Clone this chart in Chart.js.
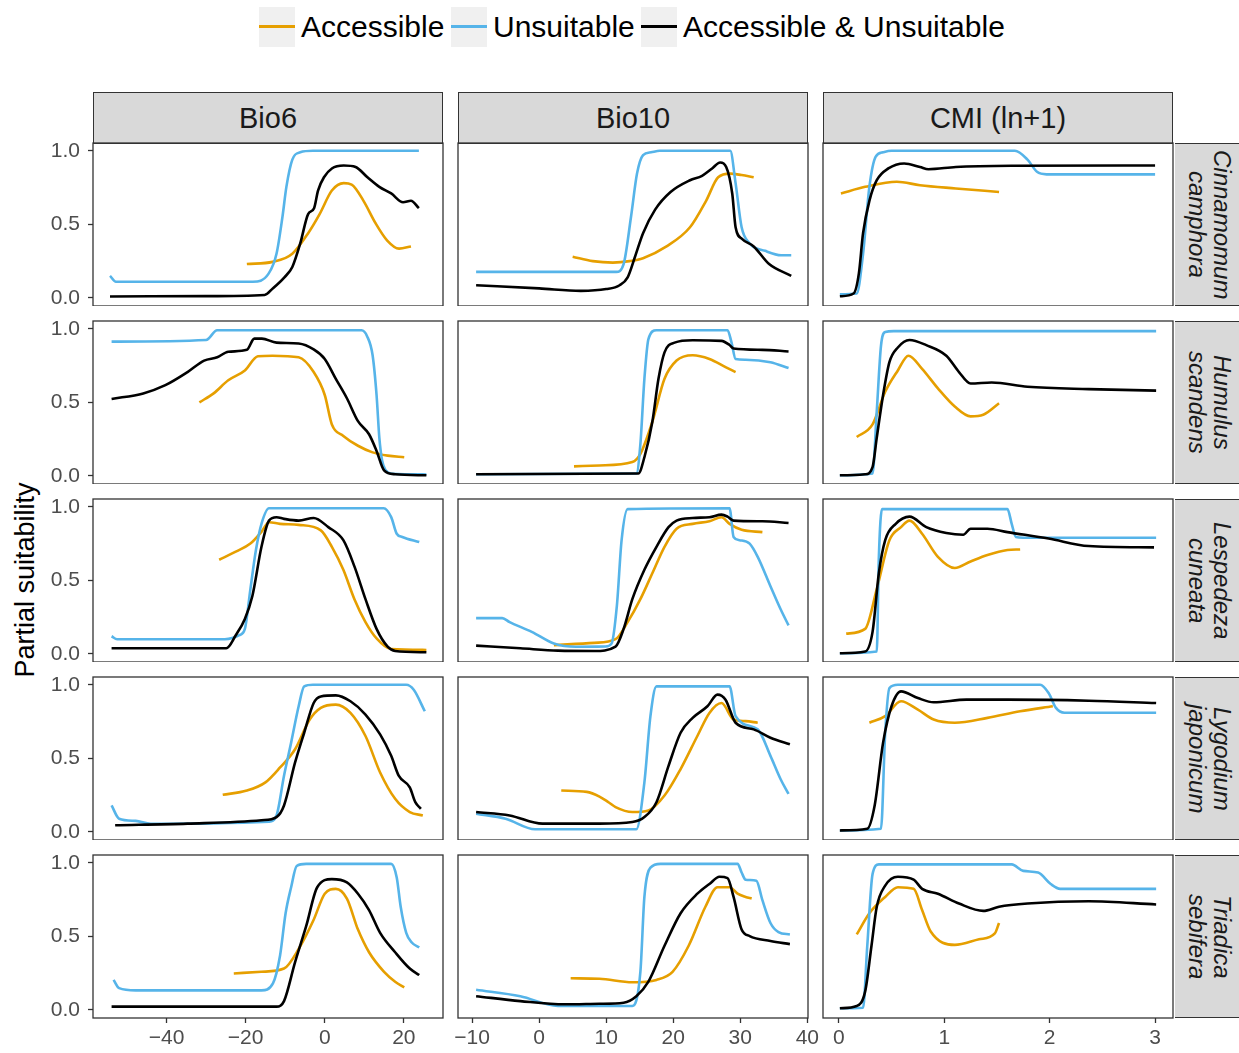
<!DOCTYPE html>
<html>
<head>
<meta charset="utf-8">
<script src="https://cdn.jsdelivr.net/npm/chart.js@4.4.1/dist/chart.umd.min.js"></script>
<style>
  body { margin: 0; background: #fff; width: 1239px; height: 1053px; position: relative; overflow: hidden;
         font-family: "Liberation Sans", Arial, sans-serif; }
  canvas { position: absolute; }
  .strip { position: absolute; background: #d9d9d9; border: 1.3px solid #333; box-sizing: border-box;
           display: flex; align-items: center; justify-content: center; color: #1a1a1a; }
  .strip.top { font-size: 29px; }
  .strip.side { border-left: none; font-size: 24px; font-style: italic; writing-mode: vertical-rl;
                text-align: center; line-height: 25px; }
  .legend-key { position: absolute; top: 7px; width: 36px; height: 40px; background: #f0f0f0; }
  .legend-key span { position: absolute; left: 0; right: 0; top: 18px; height: 3px; }
  .legend-text { position: absolute; top: 7px; height: 40px; line-height: 40px; font-size: 30px; color: #000; }
  #ytitle { position: absolute; left: 25px; top: 580px; font-size: 27px; color: #000;
            transform: translate(-50%, -50%) rotate(-90deg); white-space: nowrap; }
</style>
</head>
<body>
<div id="ytitle">Partial suitability</div>
<script>
// Facets
const variables = ['Bio6', 'Bio10', 'CMI (ln+1)'];
const genus = ['Cinnamomum', 'Humulus', 'Lespedeza', 'Lygodium', 'Triadica'];
const epithet = ['camphora', 'scandens', 'cuneata', 'japonicum', 'sebifera'];
const seriesNames = ['Accessible', 'Unsuitable', 'Accessible & Unsuitable'];
const seriesColors = ['#E69F00', '#56B4E9', '#000000'];

// Tick values
const xTicksBio6 = [-40, -20, 0, 20];
const xTicksBio10 = [-10, 0, 10, 20, 30, 40];
const xTicksCmi = [0, 1, 2, 3];
const yTicks = [0, 0.5, 1];

// Cinnamomum camphora
const cinBio6Acc = [[-19.7,0.23],[-13.2,0.245],[-8.2,0.30],[-4.2,0.44],[-1.3,0.57],[1.8,0.73],[4.8,0.78],[6.8,0.77],[9.8,0.66],[12.8,0.51],[15.8,0.39],[18.8,0.335],[21.8,0.35]];
const cinBio6Uns = [[-54.3,0.15],[-52.8,0.11],[-30,0.11],[-18.2,0.11],[-14.2,0.165],[-12.2,0.30],[-10.7,0.55],[-9.7,0.755],[-8.2,0.94],[-6.2,0.99],[-3,1.0],[23.8,1.0]];
const cinBio6Both = [[-54.3,0.01],[-30,0.012],[-15.2,0.02],[-13.2,0.063],[-10.2,0.14],[-8.2,0.21],[-6.2,0.37],[-4.2,0.57],[-2.7,0.61],[-1.7,0.73],[-0.2,0.82],[1.8,0.88],[4.8,0.90],[7.8,0.89],[10.8,0.82],[13.8,0.755],[16.8,0.71],[19.8,0.65],[21.8,0.66],[23.8,0.61]];
const cinBio10Acc = [[5.0,0.28],[8.0,0.25],[11.0,0.24],[13.5,0.25],[15.5,0.27],[19.0,0.35],[22.5,0.48],[24.9,0.66],[26.7,0.82],[28.5,0.845],[30.2,0.835],[32.0,0.82]];
const cinBio10Uns = [[-9.4,0.177],[11.5,0.177],[12.6,0.23],[13.7,0.55],[14.6,0.845],[15.5,0.97],[16.7,0.99],[18,1.0],[28.5,1.0],[29.3,0.78],[30.2,0.48],[31.4,0.37],[33.7,0.32],[36.1,0.29],[37.6,0.29]];
const cinBio10Both = [[-9.4,0.086],[0,0.065],[6.2,0.048],[10,0.06],[12.0,0.086],[13.2,0.14],[14.3,0.28],[15.5,0.44],[17.3,0.60],[19.6,0.72],[22.5,0.80],[24.3,0.83],[25.8,0.88],[27.0,0.92],[27.9,0.89],[28.8,0.71],[29.3,0.48],[30.3,0.40],[32.0,0.35],[34.3,0.23],[37.6,0.15]];
const cinCmiAcc = [[0.02,0.71],[0.25,0.755],[0.55,0.79],[0.77,0.766],[1.11,0.744],[1.52,0.72]];
const cinCmiUns = [[0.01,0.025],[0.17,0.03],[0.23,0.30],[0.29,0.755],[0.35,0.96],[0.42,0.99],[0.5,1.0],[1.67,1.0],[1.79,0.94],[1.88,0.857],[1.97,0.84],[3.0,0.84]];
const cinCmiBoth = [[0.01,0.011],[0.14,0.03],[0.19,0.165],[0.23,0.44],[0.29,0.66],[0.36,0.80],[0.47,0.88],[0.62,0.914],[0.77,0.89],[0.85,0.875],[1.11,0.89],[1.67,0.898],[3.0,0.90]];

// Humulus scandens
const humBio6Acc = [[-31.7,0.50],[-28.1,0.561],[-24.4,0.65],[-20.2,0.717],[-16.9,0.813],[-13.2,0.817],[-6.6,0.806],[-2.8,0.706],[0,0.55],[1.8,0.35],[4.7,0.272],[8.4,0.205],[12.1,0.16],[15.9,0.138],[20.1,0.127]];
const humBio6Uns = [[-53.9,0.913],[-30,0.924],[-27.2,0.99],[9.3,0.99],[10.7,0.95],[12.1,0.82],[13.1,0.55],[13.8,0.26],[14.5,0.105],[15.4,0.038],[17,0.015],[25.7,0.01]];
const humBio6Both = [[-53.9,0.523],[-45.9,0.561],[-40.3,0.617],[-34.7,0.706],[-30.5,0.784],[-27.2,0.806],[-24.4,0.844],[-19.7,0.857],[-17.8,0.933],[-15.9,0.933],[-12.2,0.906],[-6.6,0.90],[-2.8,0.86],[0,0.795],[2.8,0.66],[5.6,0.528],[8.4,0.372],[11.2,0.283],[13.1,0.17],[15.0,0.038],[17.8,0.011],[25.7,0.004]];
const humBio10Acc = [[5.2,0.065],[9.0,0.071],[13.9,0.094],[15.1,0.15],[16.9,0.37],[18.7,0.66],[20.5,0.784],[22.9,0.82],[25.4,0.795],[27.8,0.74],[29.3,0.706]];
const humBio10Uns = [[-9.4,0.011],[14.5,0.016],[15.1,0.216],[15.7,0.66],[16.3,0.93],[17.5,0.99],[28.1,0.99],[28.7,0.906],[29.3,0.795],[30.8,0.79],[34.5,0.773],[37.2,0.733]];
const humBio10Both = [[-9.4,0.011],[14.8,0.016],[15.7,0.127],[16.9,0.372],[17.8,0.66],[18.7,0.84],[20.2,0.906],[22.9,0.922],[27.2,0.918],[28.4,0.89],[29.0,0.866],[33.3,0.857],[37.2,0.846]];
const humCmiAcc = [[0.17,0.265],[0.32,0.35],[0.44,0.572],[0.56,0.717],[0.66,0.817],[0.79,0.728],[0.94,0.595],[1.10,0.472],[1.25,0.405],[1.37,0.416],[1.52,0.494]];
const humCmiUns = [[0.01,0.004],[0.32,0.016],[0.36,0.44],[0.40,0.884],[0.44,0.978],[0.52,0.984],[3.01,0.984]];
const humCmiBoth = [[0.01,0.004],[0.25,0.011],[0.32,0.06],[0.36,0.26],[0.42,0.55],[0.48,0.773],[0.56,0.873],[0.67,0.924],[0.83,0.889],[1.02,0.817],[1.14,0.706],[1.25,0.628],[1.45,0.635],[1.79,0.606],[2.37,0.59],[3.01,0.58]];

// Lespedeza cuneata
const lesBio6Acc = [[-26.7,0.64],[-22.5,0.695],[-18.8,0.75],[-16.0,0.83],[-14.1,0.895],[-11.3,0.884],[-6.6,0.877],[-1.0,0.84],[1.8,0.728],[4.7,0.572],[7.5,0.372],[10.3,0.216],[13.1,0.105],[16.8,0.033],[25.7,0.027]];
const lesBio6Uns = [[-53.9,0.12],[-52.5,0.10],[-25.3,0.10],[-21.6,0.127],[-20.2,0.17],[-18.8,0.44],[-17.4,0.706],[-16.0,0.884],[-14.1,0.99],[14.9,0.99],[16.8,0.93],[18.2,0.817],[19.6,0.795],[23.9,0.76]];
const lesBio6Both = [[-53.9,0.038],[-24.9,0.038],[-22.5,0.127],[-20.2,0.238],[-18.3,0.394],[-16.0,0.728],[-14.1,0.906],[-12.2,0.929],[-10.3,0.918],[-6.6,0.906],[-2.8,0.924],[0.9,0.862],[4.7,0.773],[7.5,0.595],[10.3,0.372],[13.1,0.17],[15.9,0.049],[17.8,0.02],[25.7,0.011]];
const lesBio10Acc = [[2.2,0.06],[8.2,0.075],[11.4,0.10],[13.2,0.216],[15.1,0.372],[16.9,0.55],[18.7,0.728],[20.5,0.851],[22.9,0.884],[25.4,0.902],[27.2,0.929],[28.4,0.884],[30.2,0.844],[33.3,0.828]];
const lesBio10Uns = [[-9.4,0.243],[-5.5,0.243],[-4.4,0.216],[-1.1,0.15],[2.2,0.071],[5.5,0.049],[9.9,0.05],[10.8,0.07],[11.6,0.33],[12.3,0.773],[13.2,0.984],[28.4,0.99],[29.0,0.795],[29.9,0.773],[31.4,0.75],[32.6,0.66],[34.5,0.46],[36.0,0.305],[37.2,0.194]];
const lesBio10Both = [[-9.4,0.056],[-2.8,0.038],[2.8,0.022],[8.2,0.02],[11.4,0.05],[12.6,0.17],[13.9,0.372],[15.7,0.572],[17.5,0.728],[19.3,0.862],[20.5,0.906],[22.9,0.924],[25.4,0.929],[27.2,0.947],[28.1,0.933],[29.0,0.906],[33.3,0.902],[37.2,0.89]];
const lesCmiAcc = [[0.07,0.138],[0.25,0.17],[0.36,0.44],[0.48,0.773],[0.59,0.862],[0.67,0.906],[0.79,0.817],[0.94,0.66],[1.10,0.584],[1.25,0.628],[1.41,0.672],[1.60,0.706],[1.72,0.71]];
const lesCmiUns = [[0.01,0.004],[0.36,0.016],[0.38,0.66],[0.41,0.984],[1.60,0.984],[1.64,0.884],[1.68,0.795],[1.75,0.79],[3.01,0.79]];
const lesCmiBoth = [[0.01,0.004],[0.25,0.016],[0.32,0.15],[0.38,0.55],[0.44,0.773],[0.54,0.884],[0.67,0.933],[0.83,0.862],[1.02,0.822],[1.18,0.81],[1.25,0.851],[1.41,0.851],[1.60,0.828],[1.99,0.784],[2.37,0.733],[2.99,0.724]];

// Lygodium japonicum
const lygBio6Acc = [[-25.8,0.252],[-19.7,0.281],[-15.0,0.337],[-11.3,0.438],[-7.5,0.562],[-3.8,0.764],[-1.0,0.843],[2.8,0.865],[6.5,0.809],[10.3,0.652],[14.0,0.404],[17.8,0.225],[21.5,0.135],[24.8,0.112]];
const lygBio6Uns = [[-53.9,0.18],[-52.0,0.09],[-47.8,0.075],[-44,0.055],[-14.1,0.07],[-12.2,0.112],[-10.3,0.382],[-8.5,0.607],[-6.6,0.854],[-5.2,0.989],[-3,1.0],[20.6,1.0],[22.5,0.966],[25.3,0.82]];
const lygBio6Both = [[-53.0,0.045],[-34.7,0.056],[-16.0,0.079],[-12.2,0.101],[-10.3,0.18],[-7.5,0.472],[-5.2,0.674],[-2.8,0.876],[-1.0,0.921],[2.8,0.928],[6.5,0.888],[10.3,0.798],[14.0,0.663],[16.8,0.517],[18.7,0.382],[21.5,0.303],[22.9,0.202],[24.3,0.157]];
const lygBio10Acc = [[3.3,0.281],[7.1,0.272],[9.0,0.24],[10.4,0.2],[11.4,0.169],[13.9,0.135],[16.3,0.146],[18.7,0.247],[21.1,0.427],[23.6,0.652],[25.4,0.809],[27.2,0.876],[29.0,0.764],[30.8,0.753],[32.6,0.742]];
const lygBio10Uns = [[-9.4,0.124],[-5.0,0.09],[-0.6,0.018],[14.5,0.018],[15.7,0.337],[16.6,0.787],[17.5,0.989],[28.4,0.99],[29.3,0.787],[32.6,0.697],[34.5,0.517],[36.0,0.36],[37.2,0.258]];
const lygBio10Both = [[-9.4,0.135],[-4.4,0.112],[0.5,0.056],[9.0,0.056],[13.9,0.067],[15.7,0.101],[17.5,0.202],[19.3,0.449],[21.1,0.674],[22.9,0.775],[25.1,0.854],[26.6,0.933],[27.8,0.899],[29.3,0.742],[32.0,0.697],[34.5,0.64],[37.4,0.596]];
const lygCmiAcc = [[0.29,0.742],[0.44,0.787],[0.59,0.888],[0.75,0.831],[0.90,0.764],[1.10,0.742],[1.41,0.775],[1.72,0.82],[2.03,0.854]];
const lygCmiUns = [[0.01,0.01],[0.40,0.022],[0.44,0.674],[0.48,0.978],[0.56,1.0],[1.91,1.0],[1.99,0.944],[2.06,0.843],[2.14,0.81],[3.01,0.81]];
const lygCmiBoth = [[0.01,0.01],[0.27,0.022],[0.34,0.18],[0.42,0.607],[0.50,0.854],[0.59,0.955],[0.75,0.91],[0.90,0.881],[1.21,0.899],[1.60,0.899],[2.37,0.892],[3.01,0.876]];

// Triadica sebifera
const triBio6Acc = [[-23.0,0.248],[-16.0,0.259],[-10.3,0.281],[-6.6,0.414],[-2.8,0.613],[0,0.79],[2.8,0.823],[5.6,0.757],[8.4,0.546],[11.2,0.392],[15.0,0.259],[17.8,0.192],[20.1,0.153]];
const triBio6Uns = [[-53.4,0.204],[-52.0,0.148],[-47.8,0.133],[-16.0,0.133],[-13.1,0.181],[-11.3,0.37],[-9.9,0.657],[-8.5,0.834],[-7.1,0.978],[-4.7,0.993],[16.8,0.993],[18.2,0.9],[19.2,0.701],[20.6,0.524],[22.0,0.458],[23.9,0.425]];
const triBio6Both = [[-53.9,0.022],[-12.2,0.022],[-10.3,0.06],[-7.5,0.325],[-4.7,0.569],[-1.9,0.834],[1.8,0.889],[5.6,0.867],[8.4,0.79],[11.2,0.679],[14.0,0.524],[17.8,0.392],[21.5,0.281],[23.9,0.237]];
const triBio10Acc = [[4.7,0.215],[9.0,0.212],[13.9,0.188],[17.5,0.204],[19.9,0.259],[22.3,0.436],[24.8,0.701],[26.6,0.834],[28.4,0.834],[29.6,0.79],[30.8,0.768],[31.7,0.757]];
const triBio10Uns = [[-9.4,0.137],[-2.8,0.093],[2.8,0.027],[13.9,0.027],[15.1,0.259],[15.7,0.768],[16.6,0.967],[18.1,0.993],[29.6,0.993],[30.2,0.934],[30.8,0.885],[32.4,0.878],[33.3,0.746],[34.5,0.591],[35.7,0.529],[37.4,0.513]];
const triBio10Both = [[-9.4,0.093],[-2.8,0.06],[3.8,0.038],[9.0,0.042],[12.6,0.049],[14.5,0.093],[16.3,0.192],[18.7,0.436],[21.1,0.657],[23.6,0.79],[25.4,0.856],[26.9,0.905],[28.1,0.896],[29.0,0.768],[30.2,0.546],[31.4,0.502],[34.5,0.469],[37.4,0.447]];
const triCmiAcc = [[0.17,0.513],[0.29,0.657],[0.44,0.768],[0.56,0.834],[0.71,0.823],[0.79,0.679],[0.87,0.535],[1.10,0.442],[1.33,0.48],[1.48,0.52],[1.52,0.591]];
const triCmiUns = [[0.01,0.011],[0.23,0.015],[0.27,0.436],[0.32,0.923],[0.38,0.989],[1.64,0.989],[1.75,0.945],[1.89,0.934],[2.01,0.856],[2.10,0.823],[3.01,0.823]];
const triCmiBoth = [[0.01,0.011],[0.17,0.027],[0.25,0.126],[0.31,0.436],[0.36,0.701],[0.44,0.845],[0.56,0.905],[0.71,0.885],[0.79,0.823],[0.94,0.79],[1.14,0.723],[1.37,0.673],[1.52,0.701],[1.79,0.723],[2.37,0.739],[3.01,0.717]];

// Rows = species, columns = variables, each cell = [Accessible, Unsuitable, Both]
const panels = [
  [[cinBio6Acc, cinBio6Uns, cinBio6Both], [cinBio10Acc, cinBio10Uns, cinBio10Both], [cinCmiAcc, cinCmiUns, cinCmiBoth]],
  [[humBio6Acc, humBio6Uns, humBio6Both], [humBio10Acc, humBio10Uns, humBio10Both], [humCmiAcc, humCmiUns, humCmiBoth]],
  [[lesBio6Acc, lesBio6Uns, lesBio6Both], [lesBio10Acc, lesBio10Uns, lesBio10Both], [lesCmiAcc, lesCmiUns, lesCmiBoth]],
  [[lygBio6Acc, lygBio6Uns, lygBio6Both], [lygBio10Acc, lygBio10Uns, lygBio10Both], [lygCmiAcc, lygCmiUns, lygCmiBoth]],
  [[triBio6Acc, triBio6Uns, triBio6Both], [triBio10Acc, triBio10Uns, triBio10Both], [triCmiAcc, triCmiUns, triCmiBoth]]
];
const xTicks = [xTicksBio6, xTicksBio10, xTicksCmi];
const xMin = [-58.6, -12.1, -0.15];
const xMax = [29.9, 40.1, 3.17];

// Layout
const PANEL_LEFT = [93, 458, 823];
const PANEL_TOP = [143, 321, 499, 677, 855];
const PANEL_W = 350, PANEL_H = 163;
const Y_AXIS_W = 90, X_AXIS_H = 42, SIDE_PAD = 24, TOP_PAD = 10;
const FONT = '"Liberation Sans", Arial, sans-serif';

Chart.defaults.font.family = FONT;

const panelBorder = {
  id: 'panelBorder',
  afterDatasetsDraw(chart) {
    const { ctx, chartArea: a } = chart;
    ctx.save();
    ctx.strokeStyle = '#333';
    ctx.lineWidth = 1.3;
    ctx.strokeRect(a.left, a.top, a.right - a.left, a.bottom - a.top);
    ctx.restore();
  }
};

function fmt(v) {
  return v < 0 ? '\u2212' + Math.abs(v) : String(v);
}

function makePanel(row, col) {
  const showY = col === 0;
  const showX = row === PANEL_TOP.length - 1;
  const canvas = document.createElement('canvas');
  const width = PANEL_W + 2 * SIDE_PAD + (showY ? Y_AXIS_W : 0);
  const height = PANEL_H + TOP_PAD + (showX ? X_AXIS_H : 0);
  canvas.width = width;
  canvas.height = height;
  canvas.style.left = (PANEL_LEFT[col] - SIDE_PAD - (showY ? Y_AXIS_W : 0)) + 'px';
  canvas.style.top = (PANEL_TOP[row] - TOP_PAD) + 'px';
  document.body.appendChild(canvas);

  const series = panels[row][col];
  // black on top, then blue, then orange
  const datasets = [2, 1, 0].map(i => ({
    label: seriesNames[i],
    data: series[i].map(([x, y]) => ({ x, y })),
    borderColor: seriesColors[i],
    borderWidth: 2.6,
    pointRadius: 0,
    fill: false,
    cubicInterpolationMode: 'monotone'
  }));

  const tickGrid = { drawOnChartArea: false, drawTicks: true, tickLength: 5, tickColor: '#333', tickWidth: 1.3 };
  const tickFont = { size: 21, family: FONT };

  new Chart(canvas, {
    type: 'line',
    data: { datasets },
    plugins: [panelBorder],
    options: {
      responsive: false,
      devicePixelRatio: 1,
      animation: false,
      events: [],
      layout: { padding: { left: SIDE_PAD, right: SIDE_PAD, top: TOP_PAD, bottom: 0 } },
      plugins: { legend: { display: false }, tooltip: { enabled: false } },
      scales: {
        x: {
          type: 'linear',
          min: xMin[col],
          max: xMax[col],
          display: showX,
          grid: tickGrid,
          border: { display: false },
          ticks: { color: '#4d4d4d', font: tickFont, padding: 3, maxRotation: 0, autoSkip: false, callback: fmt },
          afterBuildTicks: s => { s.ticks = xTicks[col].map(v => ({ value: v })); },
          afterFit: s => {
            if (!showX) return;
            s.height = X_AXIS_H; s.paddingLeft = 0; s.paddingRight = 0;
          }
        },
        y: {
          type: 'linear',
          min: -0.055,
          max: 1.053,
          display: showY,
          grid: tickGrid,
          border: { display: false },
          ticks: { color: '#4d4d4d', font: tickFont, padding: 8, autoSkip: false, callback: v => v.toFixed(1) },
          afterBuildTicks: s => { s.ticks = yTicks.map(v => ({ value: v })); },
          afterFit: s => {
            if (!showY) return;
            s.width = Y_AXIS_W; s.paddingTop = 0; s.paddingBottom = 0;
          }
        }
      }
    }
  });
}

function addDiv(cls, html, left, top, w, h) {
  const d = document.createElement('div');
  d.className = cls;
  d.innerHTML = html;
  d.style.left = left + 'px';
  d.style.top = top + 'px';
  if (w) d.style.width = w + 'px';
  if (h) d.style.height = h + 'px';
  document.body.appendChild(d);
  return d;
}

// Column strips
variables.forEach((v, c) => addDiv('strip top', v, PANEL_LEFT[c], 92, PANEL_W, 52));
// Row strips
genus.forEach((g, r) => addDiv('strip side', g + '<br>' + epithet[r], 1175, PANEL_TOP[r], 70, PANEL_H));

// Legend
const legendKeyX = [259, 451, 641];
const legendTextX = [301, 493, 683];
seriesNames.forEach((name, i) => {
  const key = addDiv('legend-key', '<span></span>', legendKeyX[i], 7);
  key.firstChild.style.background = seriesColors[i];
  addDiv('legend-text', name.replace('&', '&amp;'), legendTextX[i], 7);
});

for (let r = 0; r < PANEL_TOP.length; r++) {
  for (let c = 0; c < variables.length; c++) makePanel(r, c);
}
</script>
</body>
</html>
